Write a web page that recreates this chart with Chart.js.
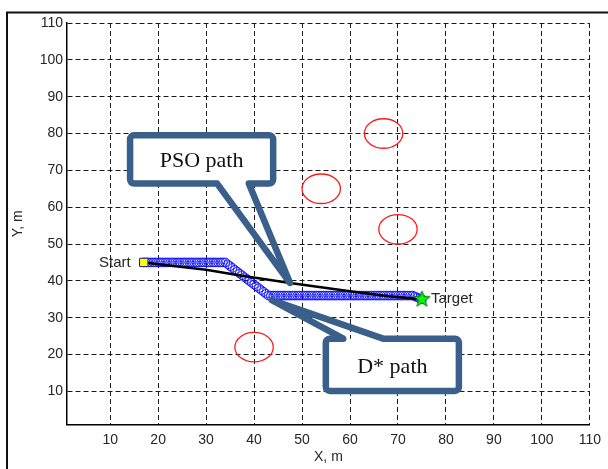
<!DOCTYPE html>
<html>
<head>
<meta charset="utf-8">
<script src="https://cdn.jsdelivr.net/npm/chart.js@4.4.0/dist/chart.umd.min.js"></script>
<style>
  html, body { margin: 0; padding: 0; background: #fff; }
  canvas { display: block; }
</style>
</head>
<body>
<canvas id="chart" width="608" height="469"></canvas>
<script>
// Axis ticks (metres)
const xTickValues = [10, 20, 30, 40, 50, 60, 70, 80, 90, 100, 110];
const yTickValues = [10, 20, 30, 40, 50, 60, 70, 80, 90, 100, 110];

// Start and goal positions
const startPoint = [17, 45];
const targetPoint = [75, 35];

// PSO path waypoints
const psoX = [17, 30, 36.8, 47.5, 60, 68, 75];
const psoY = [45, 43, 41.5, 39.4, 37.2, 35.8, 35];

// D* path cells (0.5 m grid)
const dstarX = [
  17, 17.5, 18, 18.5, 19, 19.5, 20, 20.5, 21, 21.5, 22, 22.5, 23, 23.5, 24, 24.5, 25, 25.5,
  26, 26.5, 27, 27.5, 28, 28.5, 29, 29.5, 30, 30.5, 31, 31.5, 32, 32.5, 33, 33.5, 34,
  34.5, 35, 35.5, 36, 36.5, 37, 37.5, 38, 38.5, 39, 39.5, 40, 40.5, 41, 41.5, 42, 42.5, 43,
  43.5, 44, 44.5, 45, 45.5, 46, 46.5, 47, 47.5, 48, 48.5, 49, 49.5, 50, 50.5, 51, 51.5, 52,
  52.5, 53, 53.5, 54, 54.5, 55, 55.5, 56, 56.5, 57, 57.5, 58, 58.5, 59, 59.5, 60, 60.5, 61,
  61.5, 62, 62.5, 63, 63.5, 64, 64.5, 65, 65.5, 66, 66.5, 67, 67.5, 68, 68.5, 69, 69.5, 70,
  70.5, 71, 71.5, 72, 72.5, 73, 73.5, 74, 74.5, 75
];
const dstarY = [
  45, 45, 45, 45, 45, 45, 45, 45, 45, 45, 45, 45, 45, 45, 45, 45, 45, 45,
  45, 45, 45, 45, 45, 45, 45, 45, 45, 45, 45, 45, 45, 45, 45, 45, 45,
  44.5, 44, 43.5, 43, 42.5, 42, 41.5, 41, 40.5, 40, 39.5, 39, 38.5, 38, 37.5, 37, 36.5, 36,
  36, 36, 36, 36, 36, 36, 36, 36, 36, 36, 36, 36, 36, 36, 36, 36, 36, 36,
  36, 36, 36, 36, 36, 36, 36, 36, 36, 36, 36, 36, 36, 36, 36, 36, 36, 36,
  36, 36, 36, 36, 36, 36, 36, 36, 36, 36, 36, 36, 36, 36, 36, 36, 36, 36,
  36, 36, 36, 36, 36, 36, 35.8, 35.5, 35.2, 35
];

// Circular obstacles: centre and radius
const obstacleX = [67, 54, 70, 40];
const obstacleY = [80, 65, 54, 22];
const obstacleR = [4, 4, 4, 4];

// Callout boxes (data coordinates): box [x1, y1, x2, y2], tail base x range, tail tip
const callouts = [
  { text: 'PSO path', box: [14.15, 79.5, 43.98, 66.4], base: [32.3, 38.9], tip: [47.5, 39.4], side: 'bottom' },
  { text: 'D* path',  box: [54.96, 24.3, 82.7, 10.1],  base: [58.6, 66.9], tip: [43.7, 34.75], side: 'top' }
];

const TEXT = '#262626';
Chart.defaults.font.family = '"Liberation Sans", Arial, sans-serif';

// Filled five-pointed star marker for the target
function makeStar(outer, inner, fill, stroke) {
  const size = Math.ceil(outer * 2 + 4);
  const c = document.createElement('canvas');
  c.width = size; c.height = size;
  const g = c.getContext('2d');
  const cx = size / 2, cy = size / 2;
  g.beginPath();
  for (let i = 0; i < 10; i++) {
    const r = i % 2 === 0 ? outer : inner;
    const a = -Math.PI / 2 + i * Math.PI / 5;
    const px = cx + r * Math.cos(a), py = cy + r * Math.sin(a);
    if (i === 0) g.moveTo(px, py); else g.lineTo(px, py);
  }
  g.closePath();
  g.fillStyle = fill;
  g.fill();
  g.lineWidth = 1;
  g.strokeStyle = stroke;
  g.stroke();
  return c;
}
const starMarker = makeStar(8.5, 3.5, '#00ff00', '#0a6a0a');

const framePlugin = {
  id: 'frame',
  beforeDraw(chart) {
    const ctx = chart.ctx;
    ctx.save();
    ctx.fillStyle = '#fff';
    ctx.fillRect(0, 0, chart.width, chart.height);
    ctx.strokeStyle = '#111';
    ctx.lineWidth = 2;
    ctx.beginPath();
    ctx.moveTo(7, chart.height);
    ctx.lineTo(7, 12.5);
    ctx.lineTo(chart.width, 12.5);
    ctx.stroke();
    ctx.restore();
  }
};

const obstaclePlugin = {
  id: 'obstacles',
  beforeDatasetsDraw(chart) {
    const { ctx, scales: { x, y } } = chart;
    ctx.save();
    ctx.strokeStyle = '#ff1a1a';
    ctx.lineWidth = 1.3;
    for (let i = 0; i < obstacleX.length; i++) {
      const cx = x.getPixelForValue(obstacleX[i]);
      const cy = y.getPixelForValue(obstacleY[i]);
      const rx = Math.abs(x.getPixelForValue(obstacleX[i] + obstacleR[i]) - cx);
      const ry = Math.abs(y.getPixelForValue(obstacleY[i] + obstacleR[i]) - cy);
      ctx.beginPath();
      ctx.ellipse(cx, cy, rx, ry, 0, 0, Math.PI * 2);
      ctx.stroke();
    }
    ctx.restore();
  }
};

const annotationPlugin = {
  id: 'annotations',
  afterDatasetsDraw(chart) {
    const { ctx, scales: { x, y } } = chart;
    ctx.save();
    // point labels
    ctx.fillStyle = TEXT;
    ctx.font = '15px "Liberation Sans", Arial, sans-serif';
    ctx.textBaseline = 'middle';
    ctx.textAlign = 'right';
    ctx.fillText('Start', x.getPixelForValue(startPoint[0]) - 13, y.getPixelForValue(startPoint[1]));
    ctx.textAlign = 'left';
    ctx.fillText('Target', x.getPixelForValue(targetPoint[0]) + 9, y.getPixelForValue(targetPoint[1]));

    // callouts
    for (const c of callouts) {
      const L = x.getPixelForValue(c.box[0]), R = x.getPixelForValue(c.box[2]);
      const T = y.getPixelForValue(c.box[1]), B = y.getPixelForValue(c.box[3]);
      const b1 = x.getPixelForValue(c.base[0]), b2 = x.getPixelForValue(c.base[1]);
      const tx = x.getPixelForValue(c.tip[0]), ty = y.getPixelForValue(c.tip[1]);
      const r = 4;
      ctx.fillStyle = '#fff';
      ctx.fillRect(L, T, R - L, B - T);
      ctx.beginPath();
      ctx.moveTo(L, T + r);
      ctx.arcTo(L, T, L + r, T, r);
      if (c.side === 'top') { ctx.lineTo(b1, T); ctx.lineTo(tx, ty); ctx.lineTo(b2, T); }
      ctx.lineTo(R - r, T);
      ctx.arcTo(R, T, R, T + r, r);
      ctx.lineTo(R, B - r);
      ctx.arcTo(R, B, R - r, B, r);
      if (c.side === 'bottom') { ctx.lineTo(b2, B); ctx.lineTo(tx, ty); ctx.lineTo(b1, B); }
      ctx.lineTo(L + r, B);
      ctx.arcTo(L, B, L, B - r, r);
      ctx.closePath();
      ctx.lineWidth = 6.5;
      ctx.lineJoin = 'round';
      ctx.strokeStyle = '#3a5f8b';
      ctx.stroke();
      ctx.fillStyle = '#111';
      ctx.font = '22px "Liberation Serif", "Times New Roman", serif';
      ctx.textAlign = 'center';
      ctx.textBaseline = 'middle';
      ctx.fillText(c.text, (L + R) / 2, (T + B) / 2 + 2);
    }
    ctx.restore();
  }
};

function axisOptions(ticks, title, titlePadding) {
  return {
    type: 'linear',
    min: 1,
    max: 110,
    afterBuildTicks(axis) { axis.ticks = ticks.map(v => ({ value: v })); },
    grid: { color: '#1a1a1a', lineWidth: 1, drawTicks: false },
    border: { display: true, color: '#000', width: 1.5, dash: [5, 3] },
    ticks: { padding: 5, color: TEXT, font: { size: 14 } },
    title: { display: true, text: title, color: TEXT, font: { size: 14 }, padding: titlePadding }
  };
}

const xAxis = axisOptions(xTickValues, 'X, m', { top: 0, bottom: 3 });
xAxis.afterFit = axis => { axis.height = 44.5; };
xAxis.ticks.padding = 7;
const yAxis = axisOptions(yTickValues, 'Y, m', { top: 10, bottom: 0 });
yAxis.afterFit = axis => { axis.width = 67; };
yAxis.ticks.padding = 4;

new Chart(document.getElementById('chart'), {
  type: 'scatter',
  data: {
    datasets: [
      {
        label: 'Start',
        data: [{ x: startPoint[0], y: startPoint[1] }],
        pointStyle: 'rect',
        pointRadius: 5.9,
        backgroundColor: '#ffff00',
        borderColor: '#1c1c9a',
        borderWidth: 1
      },
      {
        label: 'Target',
        data: [{ x: targetPoint[0], y: targetPoint[1] }],
        pointStyle: starMarker,
        pointRadius: 9
      },
      {
        label: 'PSO path',
        type: 'line',
        data: psoX.map((v, i) => ({ x: v, y: psoY[i] })),
        borderColor: '#000',
        borderWidth: 2.5,
        pointRadius: 0,
        fill: false,
        tension: 0
      },
      {
        label: 'D* path',
        data: dstarX.map((v, i) => ({ x: v, y: dstarY[i] })),
        pointStyle: 'circle',
        pointRadius: 4.3,
        borderColor: '#1010ff',
        backgroundColor: 'rgba(0,0,0,0)',
        borderWidth: 1
      }
    ]
  },
  options: {
    responsive: false,
    animation: false,
    layout: { padding: { top: 23, right: 15, bottom: 0, left: 0 } },
    plugins: { legend: { display: false }, tooltip: { enabled: false } },
    scales: { x: xAxis, y: yAxis }
  },
  plugins: [framePlugin, obstaclePlugin, annotationPlugin]
});
</script>
</body>
</html>
